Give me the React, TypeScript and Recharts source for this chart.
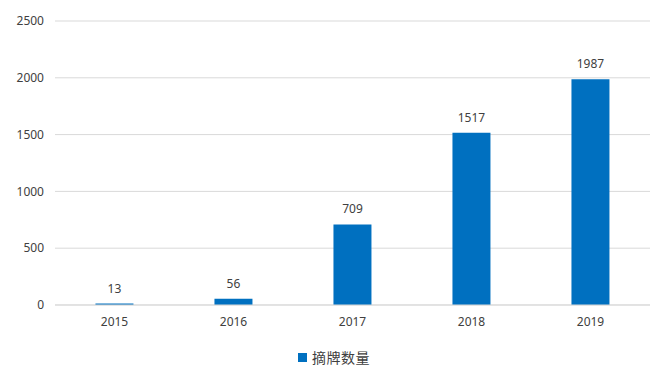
import React from "react";
import { BarChart, Bar, XAxis, YAxis, CartesianGrid, Legend, LabelList } from "recharts";

const years = ["2015", "2016", "2017", "2018", "2019"];
const delistCounts = [13, 56, 709, 1517, 1987];
const yTicks = [0, 500, 1000, 1500, 2000, 2500];

const data = years.map((year, i) => ({ year, 摘牌数量: delistCounts[i] }));

const FONT = "'Noto Sans', 'Noto Sans CJK SC', sans-serif";
const TEXT_COLOR = "#404040";
const BAR_COLOR = "#0070C0";

const LegendContent = () => (
  <div
    style={{
      display: "flex",
      justifyContent: "center",
      alignItems: "center",
      paddingTop: 12,
      paddingLeft: 18,
      height: 20,
      fontFamily: "'Noto Sans CJK SC', sans-serif",
      fontSize: 14,
      color: TEXT_COLOR,
    }}
  >
    <span style={{ width: 9, height: 9, background: BAR_COLOR, marginRight: 5, display: "inline-block" }} />
    <span style={{ letterSpacing: 0.5 }}>摘牌数量</span>
  </div>
);

export default function App() {
  return (
    <div style={{ position: "absolute", left: 0, top: 0, background: "#fff" }}>
      <BarChart
        width={661}
        height={377}
        data={data}
        margin={{ top: 21, right: 11, left: 0, bottom: 0 }}
        barCategoryGap="34%"
      >
        <CartesianGrid vertical={false} stroke="#d9d9d9" strokeWidth={1} />
        <XAxis
          dataKey="year"
          axisLine={{ stroke: "#d9d9d9" }}
          tickLine={false}
          tickMargin={6}
          height={30}
          tick={{ fill: TEXT_COLOR, fontSize: 12, fontFamily: FONT }}
        />
        <YAxis
          domain={[0, 2500]}
          ticks={yTicks}
          axisLine={false}
          tickLine={false}
          tickMargin={5}
          width={55}
          tick={{ fill: TEXT_COLOR, fontSize: 12, fontFamily: FONT }}
        />
        <Legend verticalAlign="bottom" height={42} content={<LegendContent />} />
        <Bar dataKey="摘牌数量" fill={BAR_COLOR} isAnimationActive={false}>
          <LabelList
            dataKey="摘牌数量"
            position="top"
            offset={11}
            style={{ fill: TEXT_COLOR, fontSize: 12, fontFamily: FONT }}
          />
        </Bar>
      </BarChart>
    </div>
  );
}
